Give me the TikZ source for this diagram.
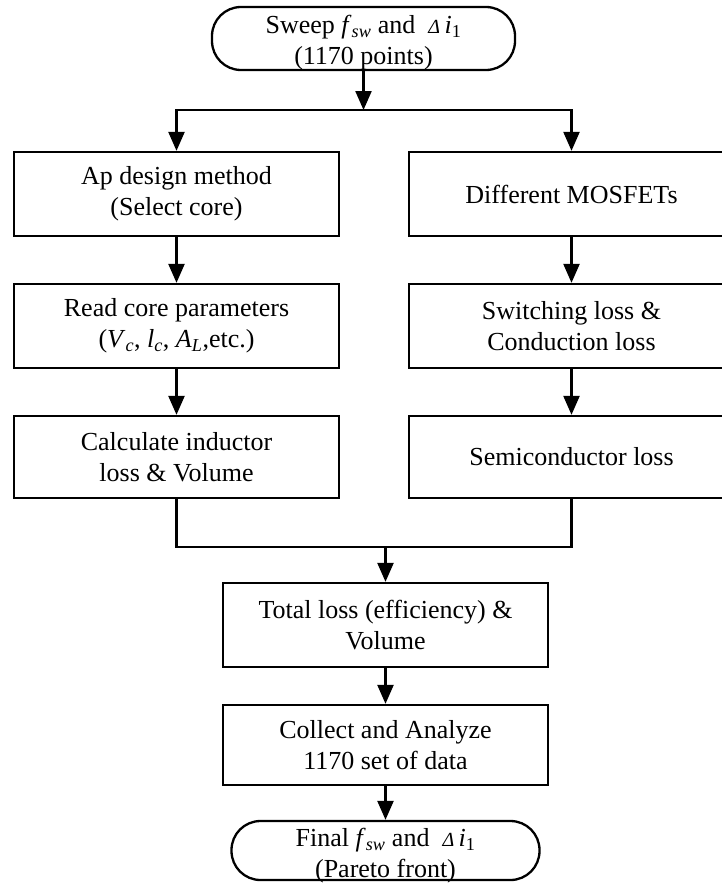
\documentclass[tikz,border=0pt]{standalone}
\usepackage{fontspec}
\setmainfont{Liberation Serif}
\usetikzlibrary{arrows.meta}

% switching frequency and current ripple symbols
\newcommand{\myfsw}{\textit{f}\textsubscript{\textit{sw}}}
\newcommand{\mydi}{{\fontsize{20}{20}\selectfont\itshape Δ}\,\textit{i}\textsubscript{1}}

\begin{document}
\begin{tikzpicture}[x=1pt,y=-1pt,
  every node/.style={font=\fontsize{26}{31}\selectfont, align=center, inner sep=0pt},
  procbox/.style={draw, line width=2.3pt, minimum width=325pt},
  termbox/.style={draw, line width=2.3pt, rounded corners=29pt},
  flow/.style={line width=2.3pt, -{Triangle[length=19pt,width=16pt]}},
  wire/.style={line width=2.3pt, line join=miter}]
\useasboundingbox (0,0) rectangle (722,883);
\clip (0,0) rectangle (722,883);

% start terminator
\node[termbox, minimum width=303pt, minimum height=63pt] (start) at (363.5,38.5) {};
\node[yshift=-4.5pt] (starttxt) at (start.center) {Sweep \myfsw{} and\ \ \mydi\\(1170 points)};

% inductor branch
\node[procbox, minimum height=84pt] (ap) at (176.5,194) {Ap design method\\(Select core)};
\node[procbox, minimum height=84pt] (rc) at (176.5,326) {Read core parameters\\(\textit{V}\textsubscript{\textit{c}}, \textit{l}\textsubscript{\textit{c}}, \textit{A}\textsubscript{\textit{L}},etc.)};
\node[procbox, minimum height=82pt] (ci) at (176.5,457) {Calculate inductor\\loss \& Volume};

% semiconductor branch
\node[procbox, minimum height=84pt] (mos) at (571.5,194) {Different MOSFETs};
\node[procbox, minimum height=84pt] (sw) at (571.5,326) {Switching loss \&\\Conduction loss};
\node[procbox, minimum height=82pt] (sc) at (571.5,457) {Semiconductor loss};

% combined evaluation
\node[procbox, minimum height=84pt] (tl) at (385.5,625) {Total loss (efficiency) \&\\Volume};
\node[procbox, minimum height=80pt] (ca) at (385.5,745) {Collect and Analyze\\1170 set of data};

% end terminator
\node[termbox, minimum width=308pt, minimum height=59pt] (fin) at (385.5,850.5) {};
\node[yshift=-5pt] (fintxt) at (fin.center) {Final \myfsw{} and\ \ \mydi\\(Pareto front)};

% split and merge points
\coordinate (split) at (363.5,110);
\coordinate (merge) at (385.5,547);

% connectors
\draw[flow] (start.south) -- (split);
\draw[flow] (split) -| (ap.north);
\draw[flow] (split) -| (mos.north);
\draw[flow] (ap) -- (rc);
\draw[flow] (rc) -- (ci);
\draw[flow] (mos) -- (sw);
\draw[flow] (sw) -- (sc);
\draw[wire] (ci.south) |- (merge) -| (sc.south);
\draw[flow] (merge) -- (tl.north);
\draw[flow] (tl) -- (ca);
\draw[flow] (ca) -- (fin);
\end{tikzpicture}
\end{document}
